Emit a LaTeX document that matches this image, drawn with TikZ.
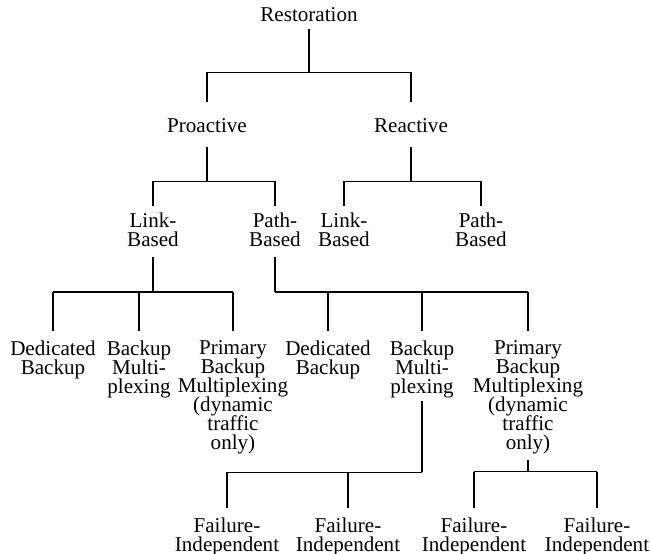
\documentclass[tikz,border=0pt]{standalone}
\usepackage{fontspec}
\setmainfont{Liberation Serif}
\newcommand\treefont{\fontsize{12}{10.8}\selectfont\lineskiplimit=-12pt\relax}
\begin{document}
\begin{tikzpicture}[x=0.02cm, y=-0.02cm, line width=0.7pt,
    lbl/.style={font=\treefont, align=center, inner sep=0pt, anchor=north}]
\useasboundingbox (0,0) rectangle (650,554);

% top levels
\node[lbl] (rest) at (309,7) {Restoration};
\node[lbl] (pro) at (207,118) {Proactive};
\node[lbl] (rea) at (411,118) {Reactive};
\node[lbl] (plink) at (153,212) {Link-\\Based};
\node[lbl] (ppath) at (275,212) {Path-\\Based};
\node[lbl] (rlink) at (344,212) {Link-\\Based};
\node[lbl] (rpath) at (481,212) {Path-\\Based};

% schemes under proactive link / path
\node[lbl] (ldb) at (53,340) {Dedicated\\Backup};
\node[lbl] (lbm) at (139,340) {Backup\\Multi-\\plexing};
\node[lbl] (lpb) at (233,340) {Primary\\Backup\\Multiplexing\\(dynamic\\traffic\\only)};
\node[lbl] (pdb) at (328,340) {Dedicated\\Backup};
\node[lbl] (pbm) at (422,340) {Backup\\Multi-\\plexing};
\node[lbl] (ppb) at (528,340) {Primary\\Backup\\Multiplexing\\(dynamic\\traffic\\only)};

% bottom row
\foreach \n/\x in {fa/227, fb/348, fc/474, fd/597}
  \node[lbl] (\n) at (\x,517) {Failure-\\Independent};

% Restoration -> Proactive, Reactive
\draw (rest.south) ++(0,7) -- ++(0,43) coordinate (b0);
\draw (b0 -| pro) -- (b0 -| rea);
\foreach \c in {pro,rea} \draw (b0 -| \c) -- ++(0,30);

% Proactive / Reactive -> Link, Path
\draw (pro.south) ++(0,14) -- ++(0,34) coordinate (b1);
\draw (b1 -| plink) -- (b1 -| ppath);
\foreach \c in {plink,ppath} \draw (b1 -| \c) -- ++(0,25);
\draw (rea.south) ++(0,14) -- ++(0,34) coordinate (b2);
\draw (b2 -| rlink) -- (b2 -| rpath);
\foreach \c in {rlink,rpath} \draw (b2 -| \c) -- ++(0,25);

% Link-Based, Path-Based -> schemes
\draw (plink.south) ++(0,10) -- ++(0,35) coordinate (b3);
\draw (b3 -| ldb) -- (b3 -| lpb);
\foreach \c in {ldb,lbm,lpb} \draw (b3 -| \c) -- ++(0,39);
\draw (ppath.south) ++(0,10) -- ++(0,35) coordinate (b4);
\draw (b4) -- (b4 -| ppb);
\foreach \c in {pdb,pbm,ppb} \draw (b4 -| \c) -- ++(0,39);

% Multiplexing -> Failure-Independent
\draw (pbm.south) ++(0,3) -- ++(0,71) coordinate (b5);
\draw (b5 -| fa) -- (b5);
\foreach \c in {fa,fb} \draw (b5 -| \c) -- ++(0,36);
\draw (ppb.south) ++(0,5) -- ++(0,12) coordinate (b6);
\draw (b6 -| fc) -- (b6 -| fd);
\foreach \c in {fc,fd} \draw (b6 -| \c) -- ++(0,36);
\end{tikzpicture}
\end{document}
